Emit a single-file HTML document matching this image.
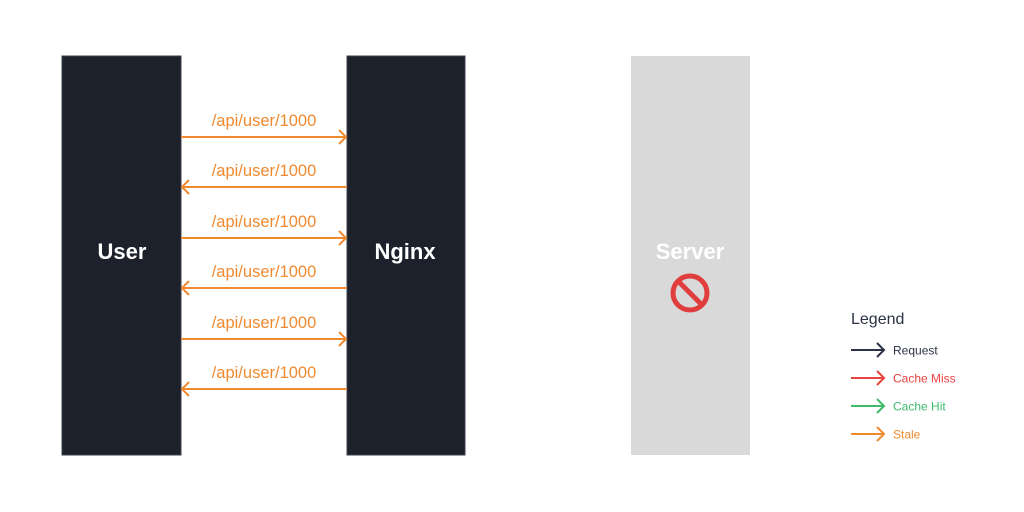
<!DOCTYPE html>
<html><head><meta charset="utf-8"><style>
html,body{margin:0;padding:0;background:#fff}
svg{display:block}
text{font-family:"Liberation Sans",sans-serif}
</style></head><body>
<svg width="1024" height="512" viewBox="0 0 1024 512">
<rect x="62" y="56" width="119" height="399" fill="#1c212c" stroke="#3a3f4a"/>
<text x="122" y="259" text-anchor="middle" fill="#fff" font-size="22" font-weight="bold">User</text>
<rect x="347" y="56" width="118" height="399" fill="#1c212c" stroke="#3a3f4a"/>
<text x="405" y="259" text-anchor="middle" fill="#fff" font-size="22" font-weight="bold">Nginx</text>
<rect x="631" y="56" width="119" height="399" fill="#d9d9d9"/>
<text x="690" y="259" text-anchor="middle" fill="#fff" font-size="22" font-weight="bold">Server</text>
<g>
<circle cx="690" cy="293" r="17" fill="none" stroke="#e03e3e" stroke-width="5"/>
<line x1="678" y1="281" x2="702" y2="305" stroke="#e03e3e" stroke-width="5"/>
</g>
<g id="arrows" stroke="#f08a30" fill="none" stroke-width="2"></g>
<g id="labels" fill="#f08a30" font-size="16.5"></g>
<text x="851" y="324" fill="#2b3245" font-size="16">Legend</text>
<g id="legend"></g>
</svg>
<script>
const ys=[137,187,238,288,339,389];
const dirs=[1,-1,1,-1,1,-1];
const ns="http://www.w3.org/2000/svg";
const A=document.getElementById('arrows'),L=document.getElementById('labels');
ys.forEach((y,i)=>{
  const g=document.createElementNS(ns,'path');
  let d;
  if(dirs[i]>0) d=`M181 ${y}H346M339 ${y-7}L346 ${y}L339 ${y+7}`;
  else d=`M347 ${y}H182M189 ${y-7}L182 ${y}L189 ${y+7}`;
  g.setAttribute('d',d);
  
  
  A.appendChild(g);
  const t=document.createElementNS(ns,'text');
  t.setAttribute('x',264);t.setAttribute('y',y-11);t.setAttribute('text-anchor','middle');
  t.textContent='/api/user/1000';
  
  
  L.appendChild(t);
});
const legNames=['Request','Cache Miss','Cache Hit','Stale'];
const legColors=['#2b3245','#e8423f','#3dbb6b','#f08a30'];
const G=document.getElementById('legend');
legNames.forEach((n,i)=>{
  const y=350+i*28;
  const p=document.createElementNS(ns,'path');
  p.setAttribute('d',`M851 ${y}H884M877 ${y-7}L884 ${y}L877 ${y+7}`);
  p.setAttribute('stroke',legColors[i]);p.setAttribute('fill','none');p.setAttribute('stroke-width','2');
  
  
  G.appendChild(p);
  const t=document.createElementNS(ns,'text');
  t.setAttribute('x',893);t.setAttribute('y',y+4.5);t.setAttribute('fill',legColors[i]);t.setAttribute('font-size','12');
  t.textContent=n;
  
  
  G.appendChild(t);
});
</script>
</body></html>
